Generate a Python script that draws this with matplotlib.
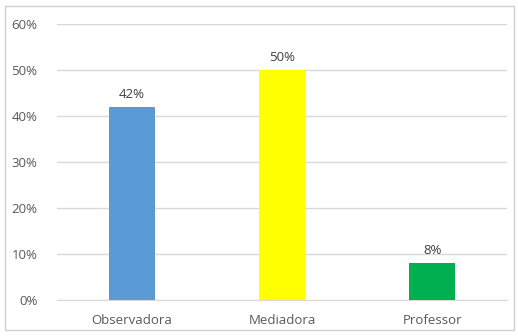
import matplotlib
matplotlib.use("Agg")
import matplotlib.pyplot as plt
from matplotlib.patches import Rectangle
from matplotlib.ticker import PercentFormatter

# Dados do gráfico
categorias = ["Observadora", "Mediadora", "Professor"]
valores = [0.42, 0.50, 0.08]
cores = ["#5b9bd5", "#ffff00", "#00b050"]
ticks_y = [0, 0.1, 0.2, 0.3, 0.4, 0.5, 0.6]

plt.rcParams["font.family"] = ["Open Sans", "DejaVu Sans"]
cinza = "#595959"

fig = plt.figure(figsize=(5.18, 3.36), dpi=100)
ax = fig.add_axes([0.110, 0.107, 0.869, 0.822])

x = range(len(categorias))
barras = ax.bar(x, valores, width=0.31, color=cores, zorder=3)

# Rótulos de valor acima das barras
for b, v in zip(barras, valores):
    ax.text(b.get_x() + b.get_width() / 2, v + 0.013, f"{v:.0%}",
            ha="center", va="bottom", fontsize=9.5, color="#404040")

ax.set_xlim(-0.5, 2.5)
ax.set_ylim(0, 0.6)
ax.set_yticks(ticks_y)
ax.yaxis.set_major_formatter(PercentFormatter(1.0, decimals=0))
ax.set_xticks(list(x))
ax.set_xticklabels(categorias)
ax.tick_params(axis="both", length=0, labelsize=9.5, labelcolor=cinza)
ax.tick_params(axis="y", pad=14)
ax.tick_params(axis="x", pad=10)

ax.grid(axis="y", color="#d9d9d9", linewidth=1, zorder=0)
for lado in ["top", "right", "left"]:
    ax.spines[lado].set_visible(False)
ax.spines["bottom"].set_color("#d9d9d9")

# Moldura do gráfico
fig.patches.append(Rectangle((0.010, 0.018), 0.982, 0.964, transform=fig.transFigure,
                             fill=False, edgecolor="#d0d0d0", linewidth=1))

fig.savefig("out.png", dpi=100)
